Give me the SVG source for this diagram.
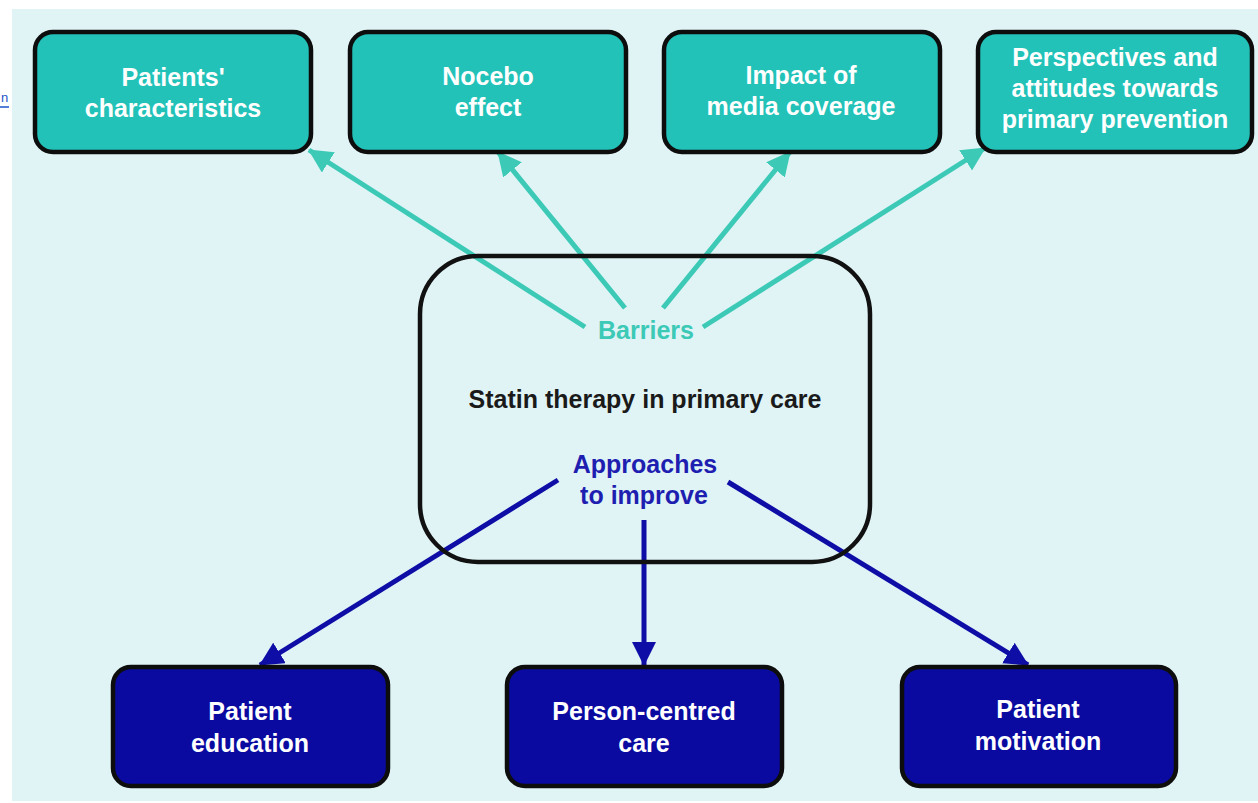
<svg xmlns="http://www.w3.org/2000/svg" width="1258" height="803" viewBox="0 0 1258 803">
<style>
.bg{fill:#e0f4f6}
.teal{fill:#22c2b8;stroke:#0d0d0d;stroke-width:4.5}
.navy{fill:#0a0aa0;stroke:#0d0d0d;stroke-width:4.5}
.center{fill:none;stroke:#111;stroke-width:4.5}
text{font-family:"Liberation Sans",Arial,sans-serif;font-weight:bold;font-size:25px;text-anchor:middle}
.w{fill:#ffffff}
.tl{stroke:#3cc9b6;stroke-width:5;fill:none}
.bl{stroke:#0e0ea6;stroke-width:5;fill:none}
</style>
<defs>
<marker id="ahT" markerUnits="userSpaceOnUse" markerWidth="26" markerHeight="24" refX="23" refY="12" orient="auto">
<path d="M0,0 L24,12 L0,24 z" fill="#3cc9b6"/>
</marker>
<marker id="ahB" markerUnits="userSpaceOnUse" markerWidth="26" markerHeight="24" refX="23" refY="12" orient="auto">
<path d="M0,0 L24,12 L0,24 z" fill="#0e0ea6"/>
</marker>
</defs>
<rect x="0" y="0" width="1258" height="803" fill="#ffffff"/>
<rect class="bg" x="12" y="9" width="1246" height="792"/>
<text x="1" y="102" style="font-weight:normal;font-size:13px;fill:#1a55c8;text-anchor:start">n</text>
<line x1="0" y1="107" x2="9" y2="107" stroke="#1a55c8" stroke-width="1.5"/>

<g id="connectors">
<line class="tl" x1="585" y1="327" x2="309" y2="150" marker-end="url(#ahT)"/>
<line class="tl" x1="625" y1="308" x2="498" y2="152" marker-end="url(#ahT)"/>
<line class="tl" x1="663" y1="308" x2="790" y2="152" marker-end="url(#ahT)"/>
<line class="tl" x1="703" y1="327" x2="985" y2="148" marker-end="url(#ahT)"/>
<line class="bl" x1="558" y1="480" x2="260" y2="665" marker-end="url(#ahB)"/>
<line class="bl" x1="644" y1="520" x2="644" y2="665" marker-end="url(#ahB)"/>
<line class="bl" x1="728" y1="482" x2="1028" y2="665" marker-end="url(#ahB)"/>
</g>

<g id="center">
<rect class="center" x="420" y="256" width="450" height="306" rx="58" ry="58"/>
<text x="646" y="339" style="fill:#3cc9b6">Barriers</text>
<text x="645" y="408" style="fill:#1a1a1a">Statin therapy in primary care</text>
<text x="645" y="473" style="fill:#1e1eb0">Approaches</text>
<text x="644" y="504" style="fill:#1e1eb0">to improve</text>
</g>

<g id="patients-characteristics">
<rect class="teal" x="35" y="32" width="276" height="120" rx="18" ry="18"/>
<text class="w" x="173" y="86">Patients'</text>
<text class="w" x="173" y="117">characteristics</text>
</g>
<g id="nocebo-effect">
<rect class="teal" x="350" y="32" width="276" height="120" rx="18" ry="18"/>
<text class="w" x="488" y="85">Nocebo</text>
<text class="w" x="488" y="116">effect</text>
</g>
<g id="media-coverage">
<rect class="teal" x="664" y="32" width="276" height="120" rx="18" ry="18"/>
<text class="w" x="801" y="84">Impact of</text>
<text class="w" x="801" y="115">media coverage</text>
</g>
<g id="perspectives">
<rect class="teal" x="978" y="32" width="274" height="120" rx="18" ry="18"/>
<text class="w" x="1115" y="66">Perspectives and</text>
<text class="w" x="1115" y="97">attitudes towards</text>
<text class="w" x="1115" y="128">primary prevention</text>
</g>

<g id="patient-education">
<rect class="navy" x="113" y="667" width="275" height="119" rx="18" ry="18"/>
<text class="w" x="250" y="720">Patient</text>
<text class="w" x="250" y="752">education</text>
</g>
<g id="person-centred-care">
<rect class="navy" x="507" y="667" width="275" height="119" rx="18" ry="18"/>
<text class="w" x="644" y="720">Person-centred</text>
<text class="w" x="644" y="752">care</text>
</g>
<g id="patient-motivation">
<rect class="navy" x="902" y="667" width="274" height="119" rx="18" ry="18"/>
<text class="w" x="1038" y="718">Patient</text>
<text class="w" x="1038" y="750">motivation</text>
</g>
</svg>
